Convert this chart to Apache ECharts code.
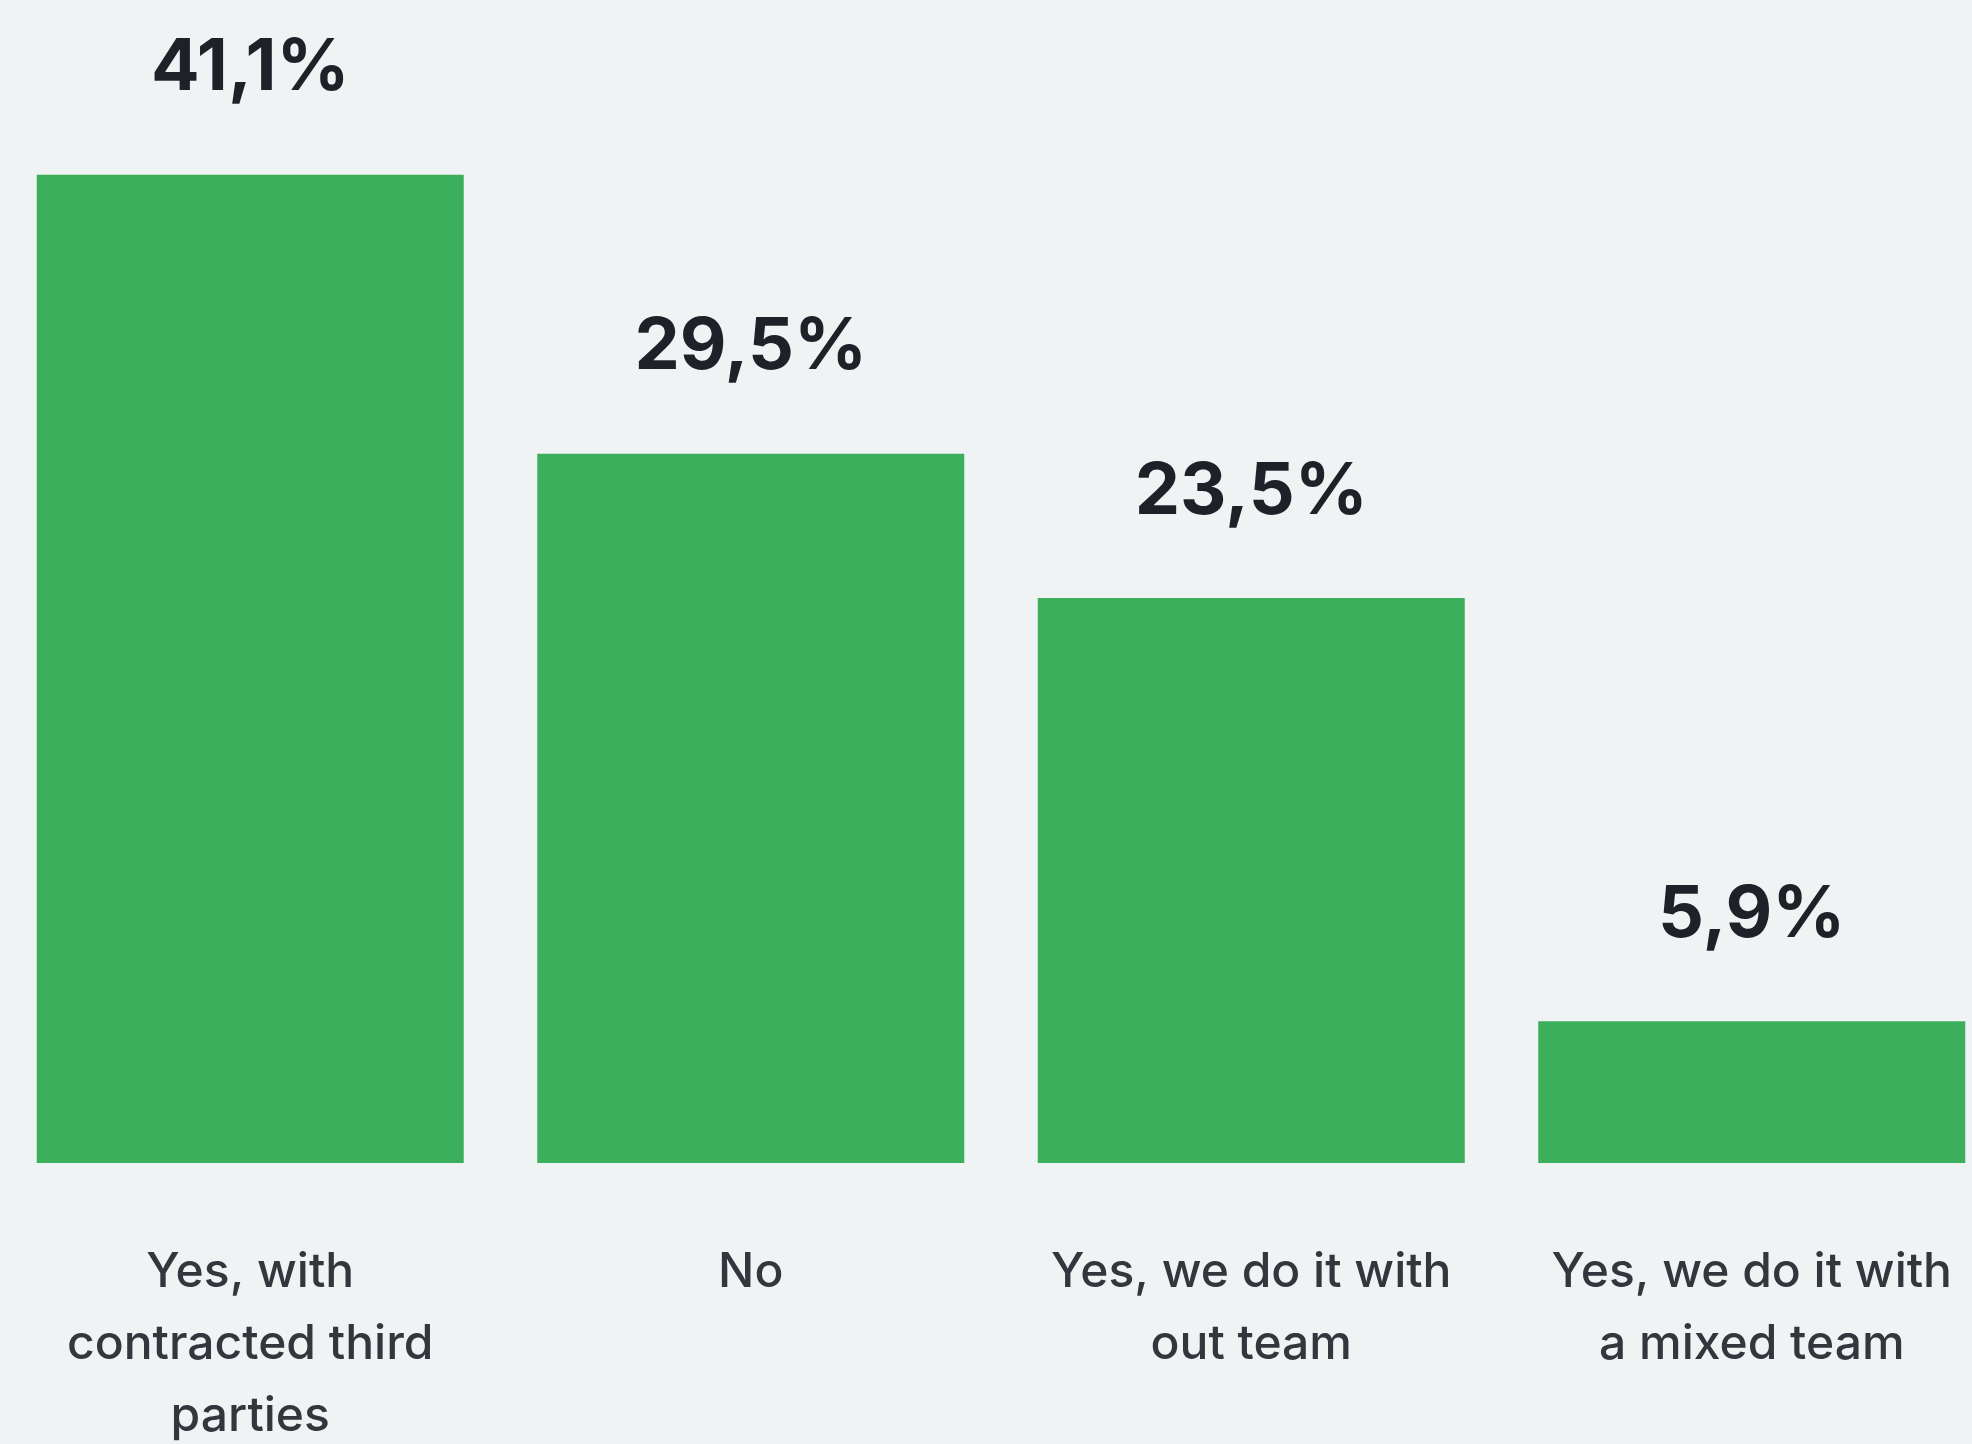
<!DOCTYPE html>
<html>
<head>
<meta charset="utf-8">
<script src="https://cdn.jsdelivr.net/npm/echarts@6/dist/echarts.min.js"></script>
<style>
  html, body { margin: 0; padding: 0; background: #eff3f4; }
  #chart { width: 1972px; height: 1444px; }
</style>
</head>
<body>
<div id="chart"></div>
<script>
// Survey answers and their shares (percent)
const categories = [
  'Yes, with\ncontracted third\nparties',
  'No',
  'Yes, we do it with\nout team',
  'Yes, we do it with\na mixed team'
];
const shares = [41.1, 29.5, 23.5, 5.9];

const chart = echarts.init(document.getElementById('chart'));

chart.setOption({
  backgroundColor: '#eff3f4',
  animation: false,
  grid: {
    left: 0,
    width: 2002,
    top: 81,
    bottom: 281,
    containLabel: false,
    outerBoundsMode: 'none'
  },
  xAxis: {
    type: 'category',
    data: categories,
    axisLine: { show: false },
    axisTick: { show: false },
    axisLabel: {
      margin: 74,
      interval: 0,
      fontFamily: 'Inter',
      fontSize: 48,
      lineHeight: 72,
      fontWeight: 500,
      color: '#33363d',
      align: 'center'
    }
  },
  yAxis: {
    type: 'value',
    min: 0,
    max: 45,
    show: false,
    splitLine: { show: false }
  },
  series: [{
    type: 'bar',
    data: shares,
    barWidth: 427,
    itemStyle: { color: '#3caf5d' },
    label: {
      show: true,
      position: 'top',
      distance: 70,
      fontFamily: 'Inter',
      fontSize: 72,
      fontWeight: 700,
      letterSpacing: -2,
      color: '#1e2128',
      formatter: p => p.value.toFixed(1).replace('.', ',') + '%'
    }
  }]
});
</script>
</body>
</html>
